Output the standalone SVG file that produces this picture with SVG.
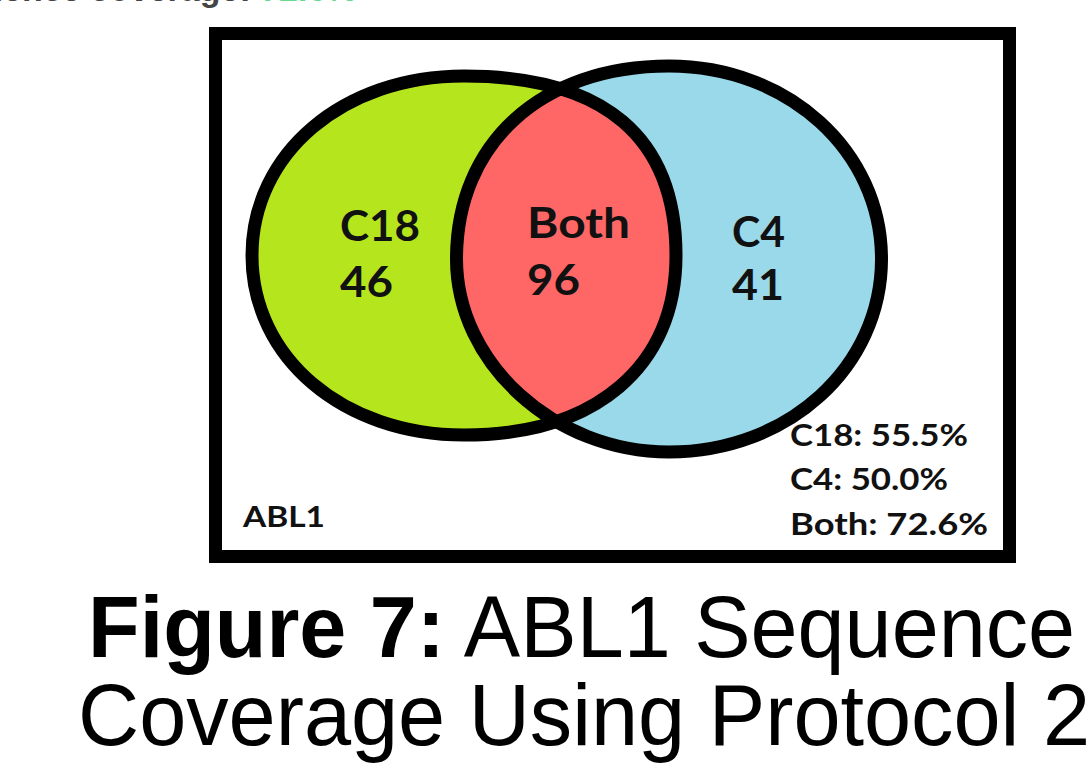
<svg xmlns="http://www.w3.org/2000/svg" width="1088" height="769" viewBox="0 0 1088 769">
<style>
.lbl{font-family:Lato,"Open Sans","DejaVu Sans",sans-serif;font-weight:bold;fill:#111;}
.big{font-size:42px;}
.small{font-size:30px;}
.ring{fill:none;stroke:#000;stroke-width:13;}
.cap{font-family:"Liberation Sans",Arial,sans-serif;font-size:87px;fill:#000;}
</style>
<defs>
<path id="shapeL" d="M676,255.5 C676,137 603.9,76 464,76 C343.2,76 252,153.2 252,255.5 C252,357.8 343.2,435 464,435 C595.4,435 676,366.8 676,255.5 Z"/>
<path id="shapeR" d="M456.5,259 C456.5,143.2 541.5,66 669,66 C788,66 881.5,151 881.5,259 C881.5,367 788,452 669,452 C554.25,452 456.5,363.2 456.5,259 Z"/>
<clipPath id="clipRight"><use href="#shapeR"/></clipPath>
</defs>
<rect width="1088" height="769" fill="#fff"/>
<text x="-80" y="1" font-family="'Liberation Sans',Arial,sans-serif" font-size="34" font-weight="bold" fill="#444">Sequence coverage: <tspan fill="#66d98c">72.6%</tspan></text>
<g id="frame">
<rect x="215.5" y="33.5" width="794" height="523" fill="#fff" stroke="#000" stroke-width="13"/>
</g>
<g id="c18">
<use href="#shapeL" fill="#b5e61d"/>
</g>
<g id="c4">
<use href="#shapeR" fill="#99d9ea"/>
</g>
<g id="both">
<use href="#shapeL" fill="#ff6666" clip-path="url(#clipRight)"/>
</g>
<g id="outlines">
<use href="#shapeL" class="ring"/>
<use href="#shapeR" class="ring"/>
</g>
<g id="labels">
<text class="lbl big" x="340" y="241" textLength="80" lengthAdjust="spacingAndGlyphs">C18</text>
<text class="lbl big" x="340" y="297" textLength="53" lengthAdjust="spacingAndGlyphs">46</text>
<text class="lbl big" x="527" y="238" textLength="103" lengthAdjust="spacingAndGlyphs">Both</text>
<text class="lbl big" x="527" y="295" textLength="53" lengthAdjust="spacingAndGlyphs">96</text>
<text class="lbl big" x="732" y="247" textLength="53" lengthAdjust="spacingAndGlyphs">C4</text>
<text class="lbl big" x="732" y="300" textLength="52" lengthAdjust="spacingAndGlyphs">41</text>
<text class="lbl" x="243" y="527" font-size="28" textLength="82" lengthAdjust="spacingAndGlyphs">ABL1</text>
<text class="lbl small" x="790" y="446" textLength="178" lengthAdjust="spacingAndGlyphs">C18: 55.5%</text>
<text class="lbl small" x="790" y="490" textLength="158" lengthAdjust="spacingAndGlyphs">C4: 50.0%</text>
<text class="lbl small" x="790" y="535" textLength="198" lengthAdjust="spacingAndGlyphs">Both: 72.6%</text>
</g>
<g id="caption">
<text class="cap" x="88" y="657" textLength="987" lengthAdjust="spacingAndGlyphs"><tspan font-weight="bold">Figure 7:</tspan> ABL1 Sequence</text>
<text class="cap" x="78" y="745" textLength="1012" lengthAdjust="spacingAndGlyphs">Coverage Using Protocol 2</text>
</g>
</svg>
